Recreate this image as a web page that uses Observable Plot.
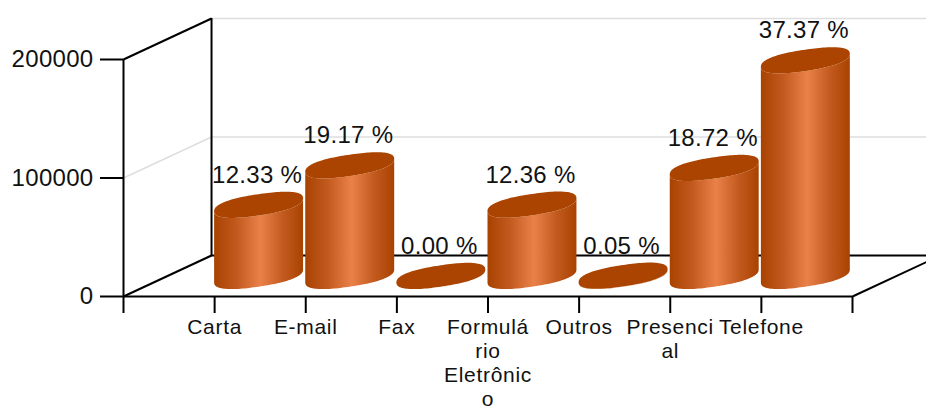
<!DOCTYPE html>
<html>
<head>
<meta charset="utf-8">
<script src="https://cdn.jsdelivr.net/npm/d3@7"></script>
<script src="https://cdn.jsdelivr.net/npm/@observablehq/plot@0.6"></script>
<style>
html,body{margin:0;padding:0;background:#fff;overflow:hidden}
g[aria-label="x-axis tick label"]{letter-spacing:.7px}
g[aria-label="y-axis tick label"]{letter-spacing:.3px}
.val{letter-spacing:.3px}
</style>
</head>
<body>
<div id="chart"></div>
<script>
const categories = ["Carta", "E-mail", "Fax", "Formulário Eletrônico", "Outros", "Presencial", "Telefone"];
const tickLabels = ["Carta", "E-mail", "Fax", "Formulá\nrio\nEletrônic\no", "Outros", "Presenci\nal", "Telefone"];
const values = [60050, 93360, 10, 60190, 240, 91170, 181990];
const percents = ["12.33 %", "19.17 %", "0.00 %", "12.36 %", "0.05 %", "18.72 %", "37.37 %"];
const yTicks = [0, 100000, 200000];
const xTicks = [-1, 0, 1, 2, 3, 4, 5, 6, 7];

// 3D projection in data units
const depthX = 0.966, depthY = 34600;       // back wall offset
const baseY = 16900;                        // cylinder base centre
const semiX = 0.488, semiY = 10550, skew = 0.52, squareness = 2.4;  // projected circle
const centre = i => i + semiX;
const side = u => Math.pow(1 - Math.pow(Math.abs(u), squareness), 1 / squareness) * Math.sqrt(1 - skew * skew);
const lower = u => semiY * (u * skew - side(u));
const upper = u => semiY * (u * skew + side(u));
const us = d3.range(0, 61).map(k => -Math.cos(Math.PI * k / 60));

const bars = categories.map((name, i) => ({name, i, value: values[i], label: percents[i]}));
const bodies = bars.flatMap(b => us.map(u => ({
  name: b.name, x: centre(b.i) + semiX * u,
  y1: baseY + lower(u), y2: baseY + b.value + lower(u)
})));
const caps = bars.flatMap(b => us.map(u => ({
  name: b.name, x: centre(b.i) + semiX * u,
  y1: baseY + b.value + lower(u), y2: baseY + b.value + upper(u)
})));

const font = "'Liberation Sans', Arial, sans-serif";
const ink = "#111";
const gridGray = "#dedede";
const lineW = 2;

const chart = Plot.plot({
  width: 926, height: 407,
  marginLeft: 123, marginRight: 74, marginTop: 59, marginBottom: 111,
  x: {domain: [-1, 7], axis: null},
  y: {domain: [0, 200000], axis: null},
  style: {fontFamily: font, background: "#fff", color: ink},
  marks: [
    () => {
      const ns = "http://www.w3.org/2000/svg";
      const defs = document.createElementNS(ns, "defs");
      const g = document.createElementNS(ns, "linearGradient");
      g.setAttribute("id", "cyl");
      [[0, "#a84200"], [0.25, "#c25a1f"], [0.52, "#ea8149"], [0.78, "#c25a1f"], [1, "#a84200"]].forEach(([o, c]) => {
        const s = document.createElementNS(ns, "stop");
        s.setAttribute("offset", o);
        s.setAttribute("stop-color", c);
        g.appendChild(s);
      });
      defs.appendChild(g);
      return defs;
    },
    // back wall grid
    Plot.ruleY([100000, 200000], {y: d => d + depthY, x1: -1 + depthX, x2: 7 + depthX, stroke: gridGray, strokeWidth: 1.5}),
    Plot.link([100000], {x1: -1, y1: d => d, x2: -1 + depthX, y2: d => d + depthY, stroke: gridGray, strokeWidth: 1.5}),
    // value labels sit behind the floor line
    Plot.text(bars, {x: d => centre(d.i), y: d => baseY + d.value + 25500, dx: -2, text: "label", fontSize: 24, fill: ink, lineAnchor: "middle", className: "val"}),
    // frame
    Plot.ruleY([depthY], {x1: -1 + depthX, x2: 7 + depthX, stroke: "#000", strokeWidth: lineW}),
    Plot.ruleX([-1 + depthX], {y1: depthY, y2: 200000 + depthY, stroke: "#000", strokeWidth: lineW}),
    Plot.link([0, 200000], {x1: -1, y1: d => d, x2: -1 + depthX, y2: d => d + depthY, stroke: "#000", strokeWidth: lineW}),
    Plot.link([0], {x1: 7, y1: d => d, x2: 7 + depthX, y2: d => d + depthY, stroke: "#000", strokeWidth: lineW}),
    Plot.ruleX([-1], {y1: 0, y2: 200000, stroke: "#000", strokeWidth: lineW}),
    Plot.ruleY([0], {x1: -1, x2: 7, stroke: "#000", strokeWidth: lineW}),
    // axes
    Plot.axisY(yTicks, {tickSize: 23, tickPadding: 7, fontSize: 24, tickFormat: "d", label: null, stroke: "#000", strokeWidth: lineW, fill: ink}),
    Plot.axisX(xTicks, {tickSize: 17, tickPadding: 4, fontSize: 21, lineHeight: 1.13, label: null, stroke: "#000", strokeWidth: lineW, fill: ink,
      tickFormat: i => tickLabels[i] ?? "", textOverflow: null}),
    // cylinders
    Plot.areaY(bodies, {x: "x", y1: "y1", y2: "y2", z: "name", fill: "url(#cyl)"}),
    Plot.areaY(caps, {x: "x", y1: "y1", y2: "y2", z: "name", fill: "#ab4400"})
  ]
});
document.getElementById("chart").appendChild(chart);
</script>
</body>
</html>
